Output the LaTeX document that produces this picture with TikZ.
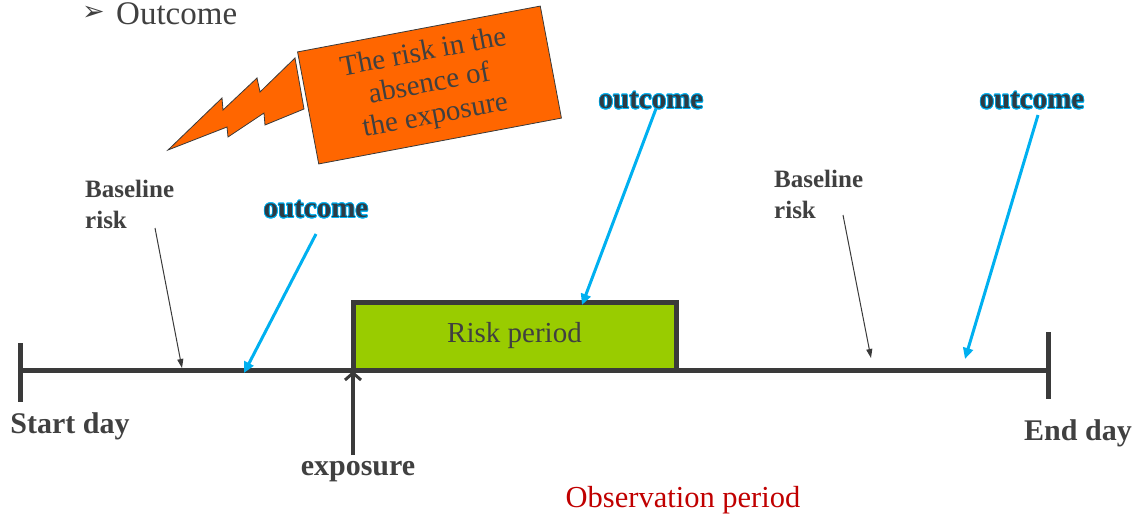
\documentclass[tikz,border=0pt]{standalone}
\usepackage{fontspec}
\setmainfont{Liberation Serif}
\newfontfamily\dejavu{DejaVu Sans}
\usepackage{contour}
\contourlength{0.7pt}
\usetikzlibrary{arrows.meta}
\definecolor{dk}{HTML}{3A3A3A}
\definecolor{txt}{HTML}{404040}
\definecolor{cy}{HTML}{00B0F0}
\definecolor{oc}{HTML}{2E3B44}
\definecolor{orng}{HTML}{FF6600}
\definecolor{grn}{HTML}{99CC00}
\definecolor{red}{HTML}{C00000}
\tikzset{
  timeline/.style={dk, line width=5pt},
  riskbox/.style={draw=dk, fill=grn, line width=5pt, inner sep=0pt, text=txt, font=\fontsize{29}{32}\selectfont},
  blbl/.style={text=txt, font=\bfseries\fontsize{30}{32}\selectfont, inner sep=0pt},
  smlbl/.style={text=txt, font=\bfseries\fontsize{25}{31}\selectfont, inner sep=0pt, align=left, anchor=west},
  outlbl/.style={text=oc, font=\bfseries\fontsize{29}{30}\selectfont, inner sep=0pt},
  bluearrow/.style={cy, line width=3pt, -{Triangle[length=11pt,width=10pt]}},
  thinarrow/.style={dk, line width=1pt, -{Triangle[length=9pt,width=6pt]}},
  exparrow/.style={dk, line width=4pt, -{Straight Barb[length=7pt,width=16pt,line width=3pt]}},
}
\begin{document}
\begin{tikzpicture}[x=1pt,y=-1pt]
\useasboundingbox (0,0) rectangle (1138,520);
% title bullet
\node[text=txt, inner sep=0pt, anchor=west] (bullet) at (82,13) {\dejavu\fontsize{27}{30}\selectfont ➢};
\node[text=txt, inner sep=0pt, anchor=west, font=\fontsize{33}{36}\selectfont] (title) at (116,14) {Outcome};
% timeline
\coordinate (start) at (20,370);
\coordinate (end) at (1048,370);
\draw[timeline] (start) -- (end);
\draw[timeline] (20,343) -- (20,402);
\draw[timeline] (1048,332) -- (1048,399);
% risk period box
\node[riskbox, minimum width=323pt, minimum height=68pt] (risk) at (514.5,336) {Risk period};
% labels
\node[blbl] (startday) at (70,426) {Start day};
\node[blbl] (endday) at (1078,433) {End day};
\node[blbl] (exposure) at (358,472) {exposure};
\node[text=red, inner sep=0pt, font=\fontsize{30.5}{32}\selectfont] (obs) at (683,500) {Observation period};
% exposure arrow
\coordinate (expfoot) at (353,455);
\coordinate (exptip) at (353,371);
\draw[exparrow] (expfoot) -- (exptip);
% baseline risk
\node[smlbl] (bl1) at (85,204) {Baseline\\risk};
\node[smlbl] (bl2) at (774,194) {Baseline\\risk};
\coordinate (bl1a) at (155,228);
\coordinate (bl1b) at (182,368);
\coordinate (bl2a) at (843,215);
\coordinate (bl2b) at (871,358);
\draw[thinarrow] (bl1a) -- (bl1b);
\draw[thinarrow] (bl2a) -- (bl2b);
% outcome labels and arrows
\coordinate (o2a) at (657,106);
\coordinate (o2b) at (582,305);
\draw[bluearrow] (o2a) -- (o2b);
\node[outlbl] (o1) at (316,210) {\contour{cy}{outcome}};
\node[outlbl] (o2) at (651,101) {\contour{cy}{outcome}};
\node[outlbl] (o3) at (1032,101) {\contour{cy}{outcome}};
\coordinate (o1a) at (316,234);
\coordinate (o1b) at (244,373);
\coordinate (o3a) at (1038,115);
\coordinate (o3b) at (965,359);
\draw[bluearrow] (o1a) -- (o1b);
\draw[bluearrow] (o3a) -- (o3b);
% lightning
\draw[fill=orng, draw=dk, line width=0.8pt, line join=miter]
  (168,150) -- (222,98) -- (223,110) -- (257,78) -- (260,92) -- (295,58)
  -- (304,109) -- (265,125) -- (264,113) -- (228,137) -- (227,127) -- cycle;
% callout
\node[draw=dk, fill=orng, line width=0.8pt, rotate=10.7, minimum width=247pt, minimum height=114pt,
      align=center, text=txt, font=\fontsize{29}{32}\selectfont, inner sep=0pt] (callout) at (429.5,85)
  {The risk in the\\absence of\\the exposure};
\end{tikzpicture}
\end{document}
